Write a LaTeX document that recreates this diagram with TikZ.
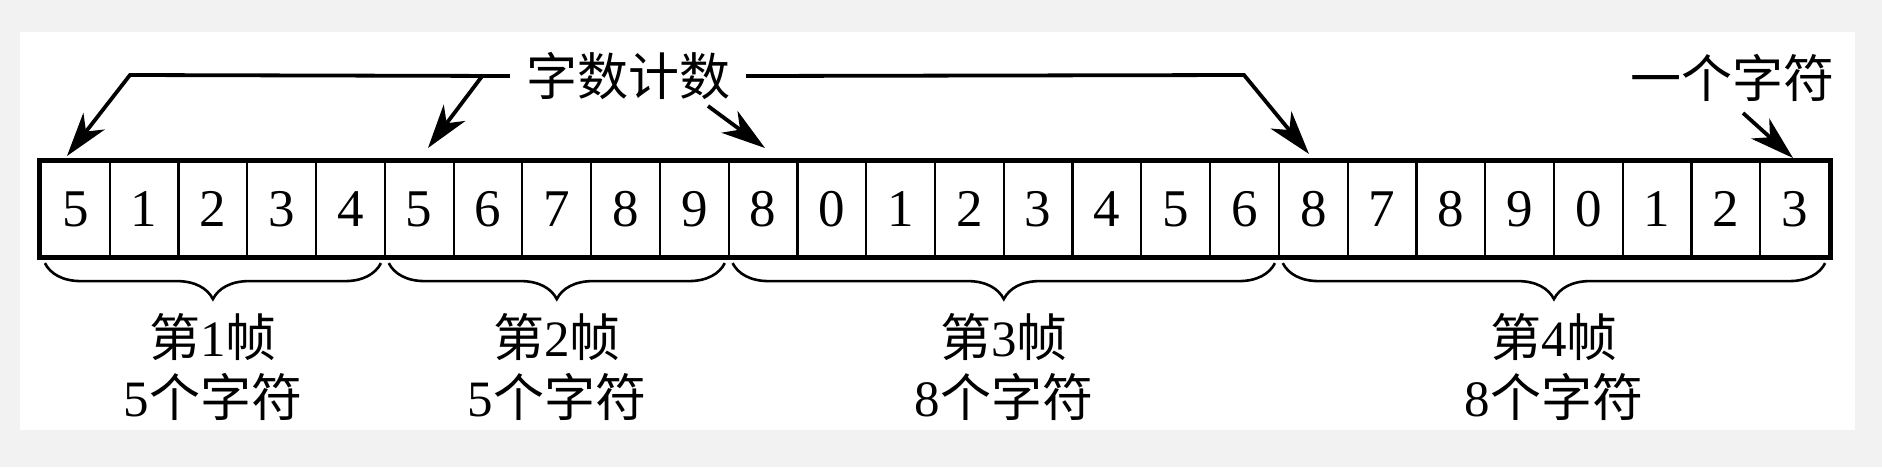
\documentclass[tikz,border=0pt]{standalone}
\usepackage{fontspec}
\setmainfont{Liberation Serif}
\newfontfamily\cjk{Noto Sans CJK SC}
\usetikzlibrary{arrows.meta,decorations.pathreplacing}
\definecolor{bgout}{RGB}{242,242,242}
\begin{document}
\begin{tikzpicture}[x=1pt,y=-1pt,
  cell/.style={draw, line width=2.2pt, minimum width=68.77pt, minimum height=94pt,
    inner sep=0pt, anchor=center, font=\fontsize{53}{60}\selectfont},
  conn/.style={line width=3.8pt, -{Stealth[length=44pt,width=27pt,inset=13pt]}},
  bracestyle/.style={line width=2.6pt, decorate, decoration={brace,mirror,amplitude=36pt}},
  lbl/.style={inner sep=0pt, font=\fontsize{51}{60}\selectfont}]
\useasboundingbox (0,0) rectangle (1882,467);
\fill[bgout] (0,0) rectangle (1882,467);
\fill[white] (20,32) rectangle (1855,430);
% cells
\foreach \d [count=\i] in {5,1,2,3,4,5,6,7,8,9,8,0,1,2,3,4,5,6,8,7,8,9,0,1,2,3}{
  \node[cell] (c\i) at ({41+(\i-0.5)*68.77},209) {\d};
}
\draw[line width=5pt] (c1.north west) rectangle (c26.south east);
% braces
\draw[bracestyle] ([xshift=5pt,yshift=-6pt]c1.south west) -- ([xshift=-5pt,yshift=-6pt]c5.south east);
\draw[bracestyle] ([xshift=5pt,yshift=-6pt]c6.south west) -- ([xshift=-5pt,yshift=-6pt]c10.south east);
\draw[bracestyle] ([xshift=5pt,yshift=-6pt]c11.south west) -- ([xshift=-5pt,yshift=-6pt]c18.south east);
\draw[bracestyle] ([xshift=5pt,yshift=-6pt]c19.south west) -- ([xshift=-5pt,yshift=-6pt]c26.south east);
% frame labels
\node[lbl, align=center] (l1) at (213,367) {{\cjk 第}1{\cjk 帧}\\5{\cjk 个字符}};
\node[lbl, align=center] (l2) at (557,367) {{\cjk 第}2{\cjk 帧}\\5{\cjk 个字符}};
\node[lbl, align=center] (l3) at (1004,367) {{\cjk 第}3{\cjk 帧}\\8{\cjk 个字符}};
\node[lbl, align=center] (l4) at (1554,367) {{\cjk 第}4{\cjk 帧}\\8{\cjk 个字符}};
% top labels
\node[lbl, inner xsep=16pt] (count) at (628,76) {\cjk 字数计数};
\node[lbl] (onechar) at (1732,78) {\cjk 一个字符};
% connectors
\coordinate (bl) at (130,75);
\coordinate (t1) at (67,156);
\draw[conn] (count.west) -- (bl) -- (t1);
\coordinate (s2) at (483,75);
\coordinate (t2) at (428,148);
\draw[conn] (s2) -- (t2);
\coordinate (s3) at (708,106);
\coordinate (t3) at (765,148);
\draw[conn] (s3) -- (t3);
\coordinate (br) at (1244,75);
\coordinate (t4) at (1309,154);
\draw[conn] (count.east) -- (br) -- (t4);
\coordinate (s5) at (1743,113);
\coordinate (t5) at (1793,158);
\draw[conn] (s5) -- (t5);
\end{tikzpicture}
\end{document}
